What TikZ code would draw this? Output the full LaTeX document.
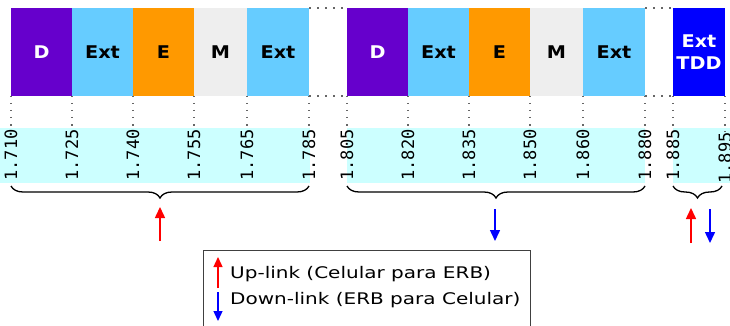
\documentclass[tikz,border=0pt]{standalone}
\usepackage{fontspec}
\setmainfont{DejaVu Sans}
\newfontfamily\cellfont[FakeStretch=1.1]{DejaVu Sans}
\newfontfamily\legfont[FakeStretch=1.25]{DejaVu Sans}
\newfontfamily\numfont{DejaVu Sans Mono}
\usetikzlibrary{positioning,arrows.meta,decorations.pathreplacing}

\definecolor{dcol}{HTML}{6600CC}
\definecolor{extcol}{HTML}{66CCFF}
\definecolor{ecol}{HTML}{FF9900}
\definecolor{mcol}{HTML}{EEEEEE}
\definecolor{tddcol}{HTML}{0000FF}
\definecolor{bandcol}{HTML}{CCFFFF}
\definecolor{dotcol}{HTML}{666666}

\begin{document}
\begin{tikzpicture}[x=1pt,y=-1pt,>={Triangle[length=11pt,width=10pt]},node distance=0pt]
  \tikzstyle{cell}=[minimum height=88pt,minimum width=61pt,inner sep=0pt,outer sep=0pt,
    font=\cellfont\fontsize{17.5}{22}\selectfont\bfseries,anchor=north west]
  \tikzstyle{dcell}=[cell,fill=dcol,text=white]
  \tikzstyle{xcell}=[cell,fill=extcol]
  \tikzstyle{ecell}=[cell,fill=ecol]
  \tikzstyle{mcell}=[cell,fill=mcol,minimum width=53pt]
  \tikzstyle{freq}=[rotate=90,inner sep=1pt,font=\numfont\fontsize{17}{18}\selectfont]
  \tikzstyle{tick}=[draw=dotcol,line width=1.5pt,dash pattern=on 1.5pt off 5.5pt]
  \tikzstyle{gap}=[draw=dotcol,line width=1.5pt,dash pattern=on 2pt off 6pt]
  \tikzstyle{brace}=[decorate,decoration={brace,mirror,amplitude=12pt},line width=1.3pt]

  \clip (0,0) rectangle (730,326);

  % frequency bands
  \fill[bandcol] (0,128) rectangle (310,183);
  \fill[bandcol] (347,128) rectangle (645,183);
  \fill[bandcol] (673,128) rectangle (730,183);

  % first block
  \node[dcell] (d1) at (11,8) {D};
  \node[xcell] (xa1) [right=of d1] {Ext};
  \node[ecell] (e1) [right=of xa1] {E};
  \node[mcell] (m1) [right=of e1] {M};
  \node[xcell,minimum width=62pt] (xb1) [right=of m1] {Ext};

  % second block
  \node[dcell] (d2) at (347,8) {D};
  \node[xcell] (xa2) [right=of d2] {Ext};
  \node[ecell] (e2) [right=of xa2] {E};
  \node[mcell] (m2) [right=of e2] {M};
  \node[xcell,minimum width=62pt] (xb2) [right=of m2] {Ext};

  \node[cell,fill=tddcol,text=white,minimum width=52pt,align=center] (tdd) at (673,8) {Ext\\TDD};

  % frequency labels
  \coordinate (lvl) at (0,155);
  \node[freq] (n1710) at (d1.south west |- lvl) {1.710};
  \node[freq] (n1725) at (xa1.south west |- lvl) {1.725};
  \node[freq] (n1740) at (e1.south west |- lvl) {1.740};
  \node[freq] (n1755) at (m1.south west |- lvl) {1.755};
  \node[freq] (n1765) at (xb1.south west |- lvl) {1.765};
  \node[freq] (n1785) at (xb1.south east |- lvl) {1.785};
  \node[freq] (n1805) at (d2.south west |- lvl) {1.805};
  \node[freq] (n1820) at (xa2.south west |- lvl) {1.820};
  \node[freq] (n1835) at (e2.south west |- lvl) {1.835};
  \node[freq] (n1850) at (m2.south west |- lvl) {1.850};
  \node[freq] (n1860) at (xb2.south west |- lvl) {1.860};
  \node[freq] (n1880) at (xb2.south east |- lvl) {1.880};
  \node[freq] (n1885) at (tdd.south west |- lvl) {1.885};
  \node[freq,xshift=-3pt] (n1895) at (tdd.south east |- lvl) {1.895};

  \path[tick]
    (d1.south west) edge (n1710.east)
    (xa1.south west) edge (n1725.east)
    (e1.south west) edge (n1740.east)
    (m1.south west) edge (n1755.east)
    (xb1.south west) edge (n1765.east)
    (xb1.south east) edge (n1785.east)
    (d2.south west) edge (n1805.east)
    (xa2.south west) edge (n1820.east)
    (e2.south west) edge (n1835.east)
    (m2.south west) edge (n1850.east)
    (xb2.south west) edge (n1860.east)
    (xb2.south east) edge (n1880.east)
    (tdd.south west) edge (n1885.east)
    (n1895.east |- tdd.south) edge (n1895.east);
  \path[gap]
    (xb1.north east) edge (d2.north west)
    (xb1.south east) edge (d2.south west)
    (xb2.north east) edge (tdd.north west)
    (xb2.south east) edge (tdd.south west);

  % braces
  \draw[brace] (11,186) -- (309,186);
  \draw[brace] (347,186) -- (645,186);
  \draw[brace] (673,186) -- (722,186);

  % link arrows
  \coordinate (up1a) at (160,241);  \coordinate (up1b) at (160,207);
  \coordinate (dn2a) at (495,209);  \coordinate (dn2b) at (495,241);
  \coordinate (up3a) at (691,243);  \coordinate (up3b) at (691,208);
  \coordinate (dn3a) at (710,209);  \coordinate (dn3b) at (710,243);
  \draw[->,red,line width=1.5pt] (up1a) -- (up1b);
  \draw[->,tddcol,line width=1.5pt] (dn2a) -- (dn2b);
  \draw[->,red,line width=1.5pt] (up3a) -- (up3b);
  \draw[->,tddcol,line width=1.5pt] (dn3a) -- (dn3b);

  % legend
  \node[draw=black!75,line width=1.2pt,anchor=north west,minimum width=327pt,
    minimum height=100pt] (legend) at (203,250) {};
  \node[anchor=base west,inner sep=0pt,font=\legfont\fontsize{16}{18}\selectfont] (uptxt) at (230,278) {Up-link (Celular para ERB)};
  \node[anchor=base west,inner sep=0pt,font=\legfont\fontsize{16}{18}\selectfont] (dntxt) at (230,304) {Down-link (ERB para Celular)};
  \coordinate (lup1) at (218,288);  \coordinate (lup2) at (218,257);
  \coordinate (ldn1) at (218,292);  \coordinate (ldn2) at (218,321);
  \draw[-{Triangle[length=10pt,width=9pt]},red,line width=1.3pt] (lup1) -- (lup2);
  \draw[-{Triangle[length=10pt,width=9pt]},tddcol,line width=1.3pt] (ldn1) -- (ldn2);
\end{tikzpicture}
\end{document}
